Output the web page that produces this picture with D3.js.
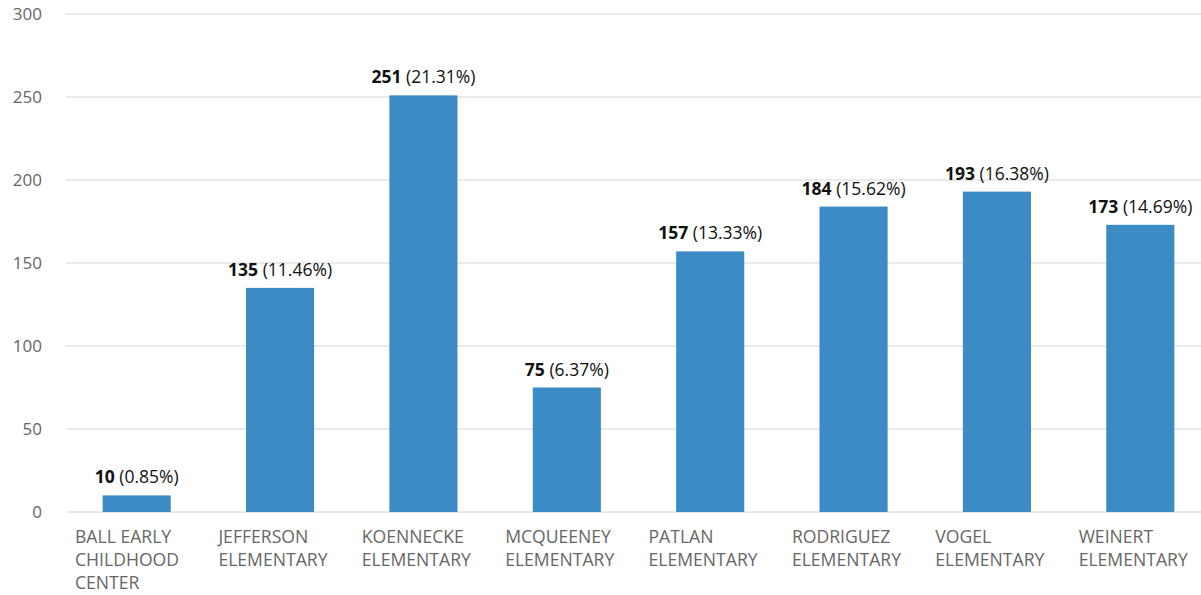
<!DOCTYPE html>
<html>
<head>
<meta charset="utf-8">
<script src="https://cdn.jsdelivr.net/npm/d3@7"></script>
<style>
  body { margin: 0; background: #fff; }
  svg { font-family: "Open Sans", sans-serif; }
</style>
</head>
<body>
<svg id="chart" width="1201" height="595"></svg>
<script>
const CATEGORIES = [
  ["BALL EARLY", "CHILDHOOD", "CENTER"],
  ["JEFFERSON", "ELEMENTARY"],
  ["KOENNECKE", "ELEMENTARY"],
  ["MCQUEENEY", "ELEMENTARY"],
  ["PATLAN", "ELEMENTARY"],
  ["RODRIGUEZ", "ELEMENTARY"],
  ["VOGEL", "ELEMENTARY"],
  ["WEINERT", "ELEMENTARY"]
];
const VALUES = [10, 135, 251, 75, 157, 184, 193, 173];
const PERCENTS = ["0.85%", "11.46%", "21.31%", "6.37%", "13.33%", "15.62%", "16.38%", "14.69%"];
const Y_TICKS = [0, 50, 100, 150, 200, 250, 300];

const svg = d3.select("#chart");
const data = VALUES.map((v, i) => ({ id: i, value: v, pct: PERCENTS[i], lines: CATEGORIES[i] }));

const X_SCALE = d3.scaleBand()
  .domain(data.map(d => d.id))
  .range([65, 1212])
  .paddingInner(0.525)
  .paddingOuter(0.2625);
const Y_SCALE = d3.scaleLinear().domain([0, 300]).range([512, 14]);

// grid
svg.append("g")
  .selectAll("line")
  .data(Y_TICKS)
  .enter()
  .append("line")
  .attr("x1", 66)
  .attr("x2", 1201)
  .attr("y1", d => Y_SCALE(d))
  .attr("y2", d => Y_SCALE(d))
  .attr("stroke", "#e3e3e3")
  .attr("stroke-width", 1.5);

// y labels
svg.append("g")
  .selectAll("text")
  .data(Y_TICKS)
  .enter()
  .append("text")
  .attr("x", 42)
  .attr("y", d => Y_SCALE(d))
  .attr("dy", "0.36em")
  .attr("text-anchor", "end")
  .attr("fill", "#666")
  .style("font-size", "17px")
  .text(d => d);

// bars
svg.append("g")
  .selectAll("rect")
  .data(data)
  .enter()
  .append("rect")
  .attr("x", d => X_SCALE(d.id))
  .attr("width", X_SCALE.bandwidth())
  .attr("y", d => Y_SCALE(d.value))
  .attr("height", d => Y_SCALE(0) - Y_SCALE(d.value))
  .attr("fill", "#3d8bc4");

// value labels
const labels = svg.append("g")
  .selectAll("text")
  .data(data)
  .enter()
  .append("text")
  .attr("x", d => X_SCALE(d.id) + X_SCALE.bandwidth() / 2)
  .attr("y", d => Y_SCALE(d.value) - 12)
  .attr("text-anchor", "middle")
  .attr("fill", "#111")
  .style("font-size", "17.5px");
labels.append("tspan").attr("font-weight", "bold").text(d => d.value);
labels.append("tspan").text(d => " (" + d.pct + ")");

// category labels
const step = X_SCALE.step();
const labelX = id => X_SCALE(id) - (step - X_SCALE.bandwidth()) / 2 + 10;
const cats = svg.append("g")
  .selectAll("text")
  .data(data)
  .enter()
  .append("text")
  .attr("x", d => labelX(d.id))
  .attr("y", 543)
  .attr("fill", "#666")
  .style("font-size", "17.6px");
cats.selectAll("tspan")
  .data(d => d.lines.map(l => ({ l, x: labelX(d.id) })))
  .enter()
  .append("tspan")
  .attr("x", t => t.x)
  .attr("dy", (t, i) => i === 0 ? 0 : 23)
  .text(t => t.l);
</script>
</body>
</html>
